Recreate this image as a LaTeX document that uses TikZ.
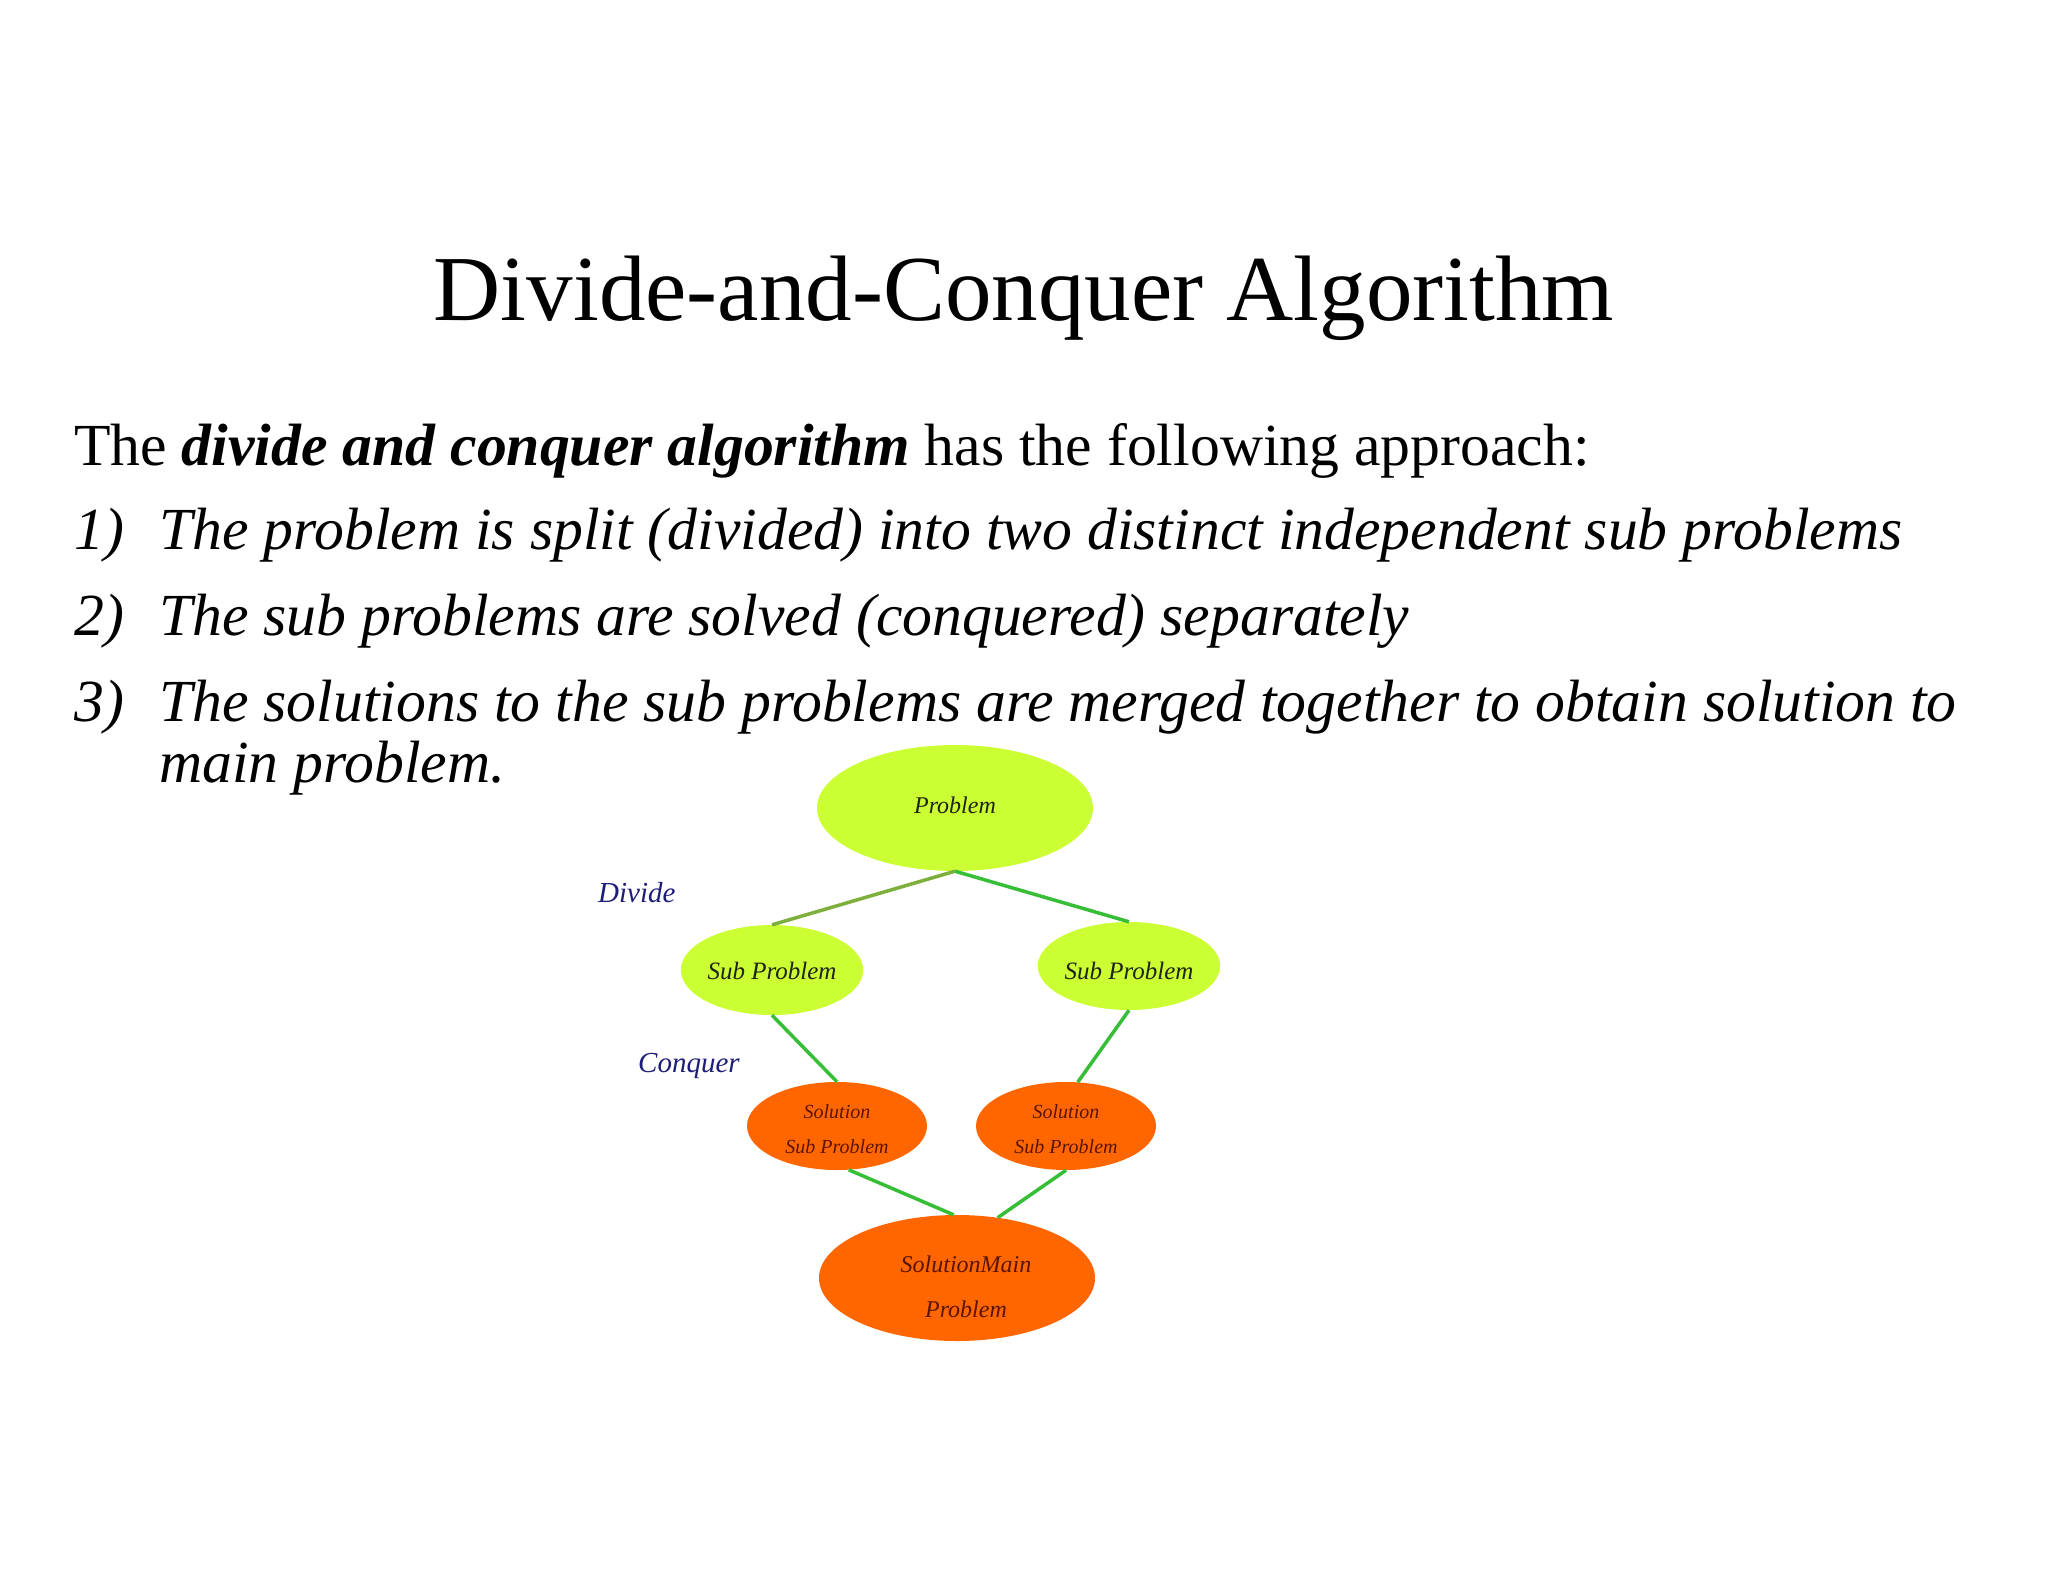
\documentclass[tikz,border=0pt]{standalone}
\usepackage{fontspec}
\setmainfont{Liberation Serif}
\usetikzlibrary{shapes.geometric}
\definecolor{lime}{RGB}{204,255,51}
\definecolor{orng}{RGB}{255,102,0}
\definecolor{lgreen}{RGB}{55,190,55}
\definecolor{olivegreen}{RGB}{125,175,60}
\definecolor{navy}{RGB}{30,30,120}
\definecolor{dred}{RGB}{90,20,0}
\definecolor{dtext}{RGB}{30,35,20}
\tikzset{
  ell/.style={ellipse, draw=none, inner sep=0pt, align=center, font=\itshape},
  limeell/.style={ell, fill=lime, text=dtext},
  orngell/.style={ell, fill=orng, text=dred},
  conn/.style={draw=lgreen, line width=3.5pt},
  txt/.style={anchor=base west, inner sep=0pt},
  lbl/.style={anchor=base west, inner sep=0pt, text=navy, font=\fontsize{29}{34}\selectfont\itshape}
}
\begin{document}
\begin{tikzpicture}[x=1pt,y=-1pt]
\useasboundingbox[fill=white] (0,0) rectangle (2048,1582);
% title
\node[anchor=base, inner sep=0pt, font=\fontsize{93}{110}\selectfont] (title) at (1024,320) {Divide-and-Conquer Algorithm};
% body
\begin{scope}[every node/.append style={font=\fontsize{59.7}{72}\selectfont}]
\node[txt] (intro) at (74,465) {The \textbf{\textit{divide and conquer algorithm}} has the following approach:};
\node[txt] (n1) at (74,549) {\textit{1)}};
\node[txt] (t1) at (159,549) {\textit{The problem is split (divided) into two distinct independent sub problems}};
\node[txt] (n2) at (74,635) {\textit{2)}};
\node[txt] (t2) at (159,635) {\textit{The sub problems are solved (conquered) separately}};
\node[txt] (n3) at (74,721) {\textit{3)}};
\node[txt] (t3) at (159,721) {\textit{The solutions to the sub problems are merged together to obtain solution to}};
\node[txt] (t3b) at (159,782) {\textit{main problem.}};
\end{scope}
% diagram
\node[limeell, minimum width=276pt, minimum height=126pt, text height=17pt, text depth=7pt, font=\fontsize{24}{28}\selectfont\itshape] (P) at (955,808) {Problem};
\node[limeell, minimum width=182pt, minimum height=90pt, text height=20pt, text depth=2pt, font=\fontsize{25}{28}\selectfont\itshape] (S1) at (772,970) {Sub Problem};
\node[limeell, minimum width=178pt, minimum height=88pt, text height=28pt, text depth=2pt, font=\fontsize{25}{28}\selectfont\itshape] (S2) at (1129,966) {Sub Problem};
\node[orngell, minimum width=180pt, minimum height=88pt, text height=58pt, text depth=4pt, font=\fontsize{20}{35}\selectfont\itshape] (L1) at (837,1126) {Solution\\Sub Problem};
\node[orngell, minimum width=180pt, minimum height=88pt, text height=58pt, text depth=4pt, font=\fontsize{20}{35}\selectfont\itshape] (L2) at (1066,1126) {Solution\\Sub Problem};
\node[orngell, minimum width=276pt, minimum height=126pt, text height=83pt, text depth=5pt, font=\fontsize{24}{45}\selectfont\itshape] (M) at (957,1278) {\hspace*{18pt}SolutionMain\\\hspace*{18pt}Problem};
\node[lbl] (div) at (598,902) {Divide};
\node[lbl] (conq) at (638,1072) {Conquer};
% connectors
\draw[conn, draw=olivegreen] (P.south) -- (S1.north);
\draw[conn] (P.south) -- (S2.north);
\draw[conn] (S1.south) -- (L1.north);
\draw[conn] (S2.south) -- (L2.75);
\draw[conn] (L1.-75) -- (M.93);
\draw[conn] (L2.south) -- (M.56);
\end{tikzpicture}
\end{document}
